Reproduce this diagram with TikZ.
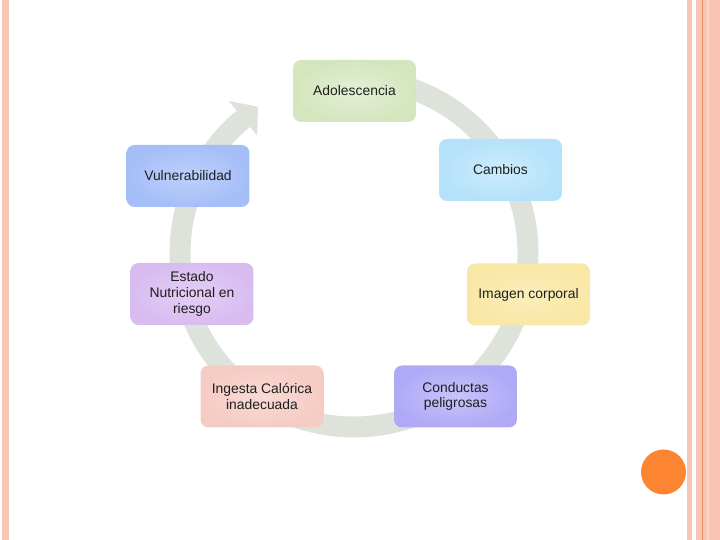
\documentclass[tikz,border=0pt]{standalone}
\usepackage{fontspec}
\setmainfont{Liberation Sans}
\usetikzlibrary{calc,positioning}

\definecolor{bordpeach}{RGB}{248,198,178}
\definecolor{bordlight}{RGB}{251,214,198}
\definecolor{bordsalmon}{RGB}{250,196,180}
\definecolor{bordline}{RGB}{232,140,100}
\definecolor{dotorange}{RGB}{253,133,50}
\definecolor{ringgray}{RGB}{221,226,218}

\tikzset{
  cyclebox/.style={rounded corners=0.16cm, minimum width=2.46cm, minimum height=1.24cm,
                   align=center, text=black!88, font=\fontsize{7.9}{8.9}\selectfont}
}

\begin{document}
\begin{tikzpicture}[x=0.02cm, y=0.02cm]
  \useasboundingbox (0,0) rectangle (720,540);
  % Borders
  \fill[bordpeach] (2,0) rectangle (9,540);
  \fill[bordpeach] (687,0) rectangle (692,540);
  \fill[bordpeach] (696,0) rectangle (720,540);
  \fill[bordlight] (707,0) rectangle (709,540);
  \fill[bordsalmon] (709,0) rectangle (720,540);
  \draw[bordline, line width=0.02cm] (702.5,0) -- (702.5,540);
  \fill[dotorange] (663.5,68) circle (22.5);

  % Cycle arrow
  \coordinate (c) at (354,287);
  \draw[ringgray, line width=0.42cm] ($(c)+(95:174)$)
       arc[start angle=95, end angle=-230.5, radius=174];
  \fill[ringgray] ($(c)+(129.5:197)$) -- ($(c)+(123.3:175)$)
       -- ($(c)+(129.5:152)$) -- cycle;

  % Stages
  \node[cyclebox, inner color={rgb,255:red,228;green,239;blue,214},
        outer color={rgb,255:red,212;green,230;blue,190}] (adol) at (354.5,449) {Adolescencia};
  \node[cyclebox, inner color={rgb,255:red,205;green,236;blue,252},
        outer color={rgb,255:red,180;green,226;blue,250}] (camb) at (500.5,370) {Cambios};
  \node[cyclebox, inner color={rgb,255:red,251;green,238;blue,186},
        outer color={rgb,255:red,249;green,231;blue,166}] (imag) at (528.5,245.5) {Imagen corporal};
  \node[cyclebox, inner color={rgb,255:red,200;green,196;blue,250},
        outer color={rgb,255:red,176;green,170;blue,246}] (cond) at (455.5,143.5) {Conductas\\peligrosas};
  \node[cyclebox, inner color={rgb,255:red,248;green,218;blue,212},
        outer color={rgb,255:red,245;green,204;blue,196}] (inge) at (262,143.5) {Ingesta Calórica\\inadecuada};
  \node[cyclebox, inner color={rgb,255:red,228;green,206;blue,246},
        outer color={rgb,255:red,216;green,188;blue,240}] (esta) at (192,246) {Estado\\Nutricional en\\riesgo};
  \node[cyclebox, inner color={rgb,255:red,190;green,208;blue,250},
        outer color={rgb,255:red,166;green,190;blue,248}] (vuln) at (188,364) {Vulnerabilidad};
\end{tikzpicture}
\end{document}
